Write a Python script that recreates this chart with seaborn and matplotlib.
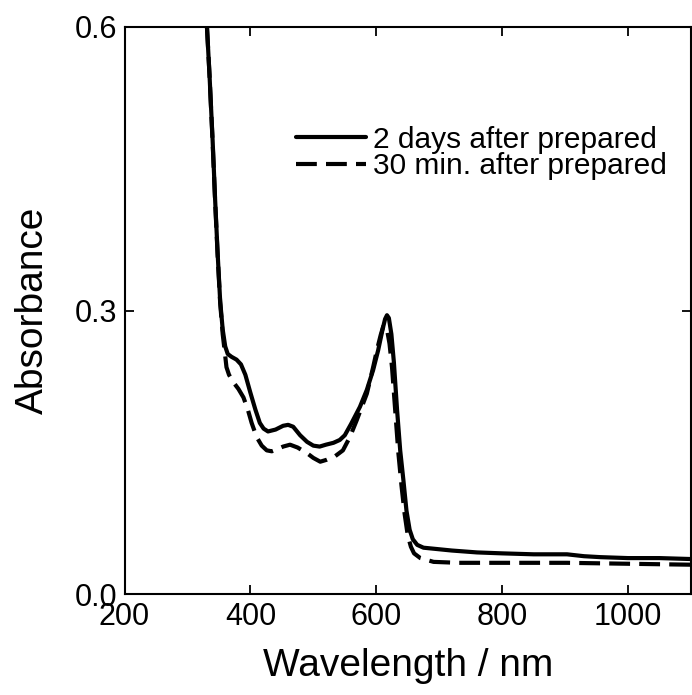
import matplotlib
matplotlib.use("Agg")
import matplotlib.pyplot as plt
import seaborn as sns
import pandas as pd

# Data
wl_2days = [331, 335, 340, 344, 348, 352, 356, 360, 364, 370, 378, 385, 392, 400,
            408, 415, 421, 428, 440, 452, 460, 468, 479, 490, 500, 510, 520, 532,
            542, 550, 560, 574, 585, 595, 603, 610, 614, 617, 620, 624, 628, 633,
            638, 643, 648, 653, 658, 665, 675, 690, 720, 760, 800, 850, 880, 903,
            930, 956, 1000, 1050, 1100]
abs_2days = [0.600, 0.550, 0.480, 0.417, 0.360, 0.310, 0.280, 0.262, 0.254, 0.251,
             0.248, 0.243, 0.232, 0.213, 0.195, 0.181, 0.175, 0.172, 0.174, 0.178,
             0.179, 0.177, 0.168, 0.161, 0.157, 0.156, 0.158, 0.160, 0.163, 0.168,
             0.180, 0.198, 0.216, 0.237, 0.258, 0.280, 0.291, 0.295, 0.292, 0.275,
             0.245, 0.195, 0.152, 0.121, 0.088, 0.068, 0.058, 0.052, 0.049, 0.048,
             0.046, 0.044, 0.043, 0.042, 0.042, 0.042, 0.040, 0.039, 0.038, 0.038,
             0.037]

wl_30min = [331, 335, 340, 344, 348, 352, 356, 359, 362, 366, 373, 381, 389, 396,
            402, 410, 418, 426, 434, 442, 452, 463, 475, 490, 500, 511, 521, 535,
            547, 558, 569, 585, 595, 601, 607, 611, 614, 617, 621, 625, 630, 635,
            640, 645, 650, 655, 660, 670, 691, 730, 770, 850, 903, 1000, 1100]
abs_30min = [0.600, 0.550, 0.478, 0.415, 0.358, 0.308, 0.275, 0.258, 0.240, 0.232,
             0.224, 0.217, 0.208, 0.195, 0.181, 0.166, 0.157, 0.152, 0.151, 0.153,
             0.156, 0.158, 0.155, 0.149, 0.144, 0.140, 0.142, 0.146, 0.152, 0.166,
             0.184, 0.212, 0.240, 0.258, 0.274, 0.283, 0.284, 0.280, 0.265, 0.240,
             0.195, 0.150, 0.115, 0.085, 0.062, 0.050, 0.043, 0.038, 0.034, 0.033,
             0.033, 0.033, 0.033, 0.032, 0.031]

label_2days = "2 days after prepared"
label_30min = "30 min. after prepared"
x_ticks = [200, 400, 600, 800, 1000]
y_ticks = [0.0, 0.3, 0.6]
y_tick_labels = ["0.0", "0.3", "0.6"]

sns.set_theme(style="ticks")
plt.rcParams["font.family"] = ["Liberation Sans", "DejaVu Sans"]
plt.rcParams["text.color"] = "black"
plt.rcParams["axes.labelcolor"] = "black"
plt.rcParams["xtick.color"] = "black"
plt.rcParams["ytick.color"] = "black"

fig = plt.figure(figsize=(6.92, 6.95), dpi=100)
ax = fig.add_axes([124.5 / 692, 101 / 695, (691 - 124.5) / 692, (594 - 27) / 695])

df1 = pd.DataFrame({"x": wl_2days, "y": abs_2days})
df2 = pd.DataFrame({"x": wl_30min, "y": abs_30min})

sns.lineplot(data=df1, x="x", y="y", ax=ax, color="black", lw=3.0,
             label=label_2days, sort=False)
sns.lineplot(data=df2, x="x", y="y", ax=ax, color="black", lw=3.0,
             label=label_30min, sort=False, linestyle=(0, (5, 2.2)))

ax.set_xlim(200, 1100)
ax.set_ylim(0.0, 0.6)
ax.set_xticks(x_ticks)
ax.set_xticklabels([str(t) for t in x_ticks])
ax.set_yticks(y_ticks)
ax.set_yticklabels(y_tick_labels)
ax.tick_params(direction="in", length=6.5, width=1.3, labelsize=22, pad=5,
               top=True, right=True, colors="black", labelcolor="black")
ax.tick_params(axis="x", pad=6)
for s in ax.spines.values():
    s.set_linewidth(1.5)
    s.set_color("black")

ax.set_xlabel("Wavelength / nm", fontsize=28, labelpad=11, color="black")
ax.set_ylabel("Absorbance", fontsize=28, labelpad=17, color="black")

leg = ax.legend(loc="upper right", bbox_to_anchor=(0.958, 0.826), frameon=False,
                fontsize=21.5, handlelength=2.35, handletextpad=0.23,
                labelspacing=-0.05, borderaxespad=0.0, borderpad=0.0)
for t in leg.get_texts():
    t.set_color("black")

fig.savefig("out.png", dpi=100, facecolor="white")
